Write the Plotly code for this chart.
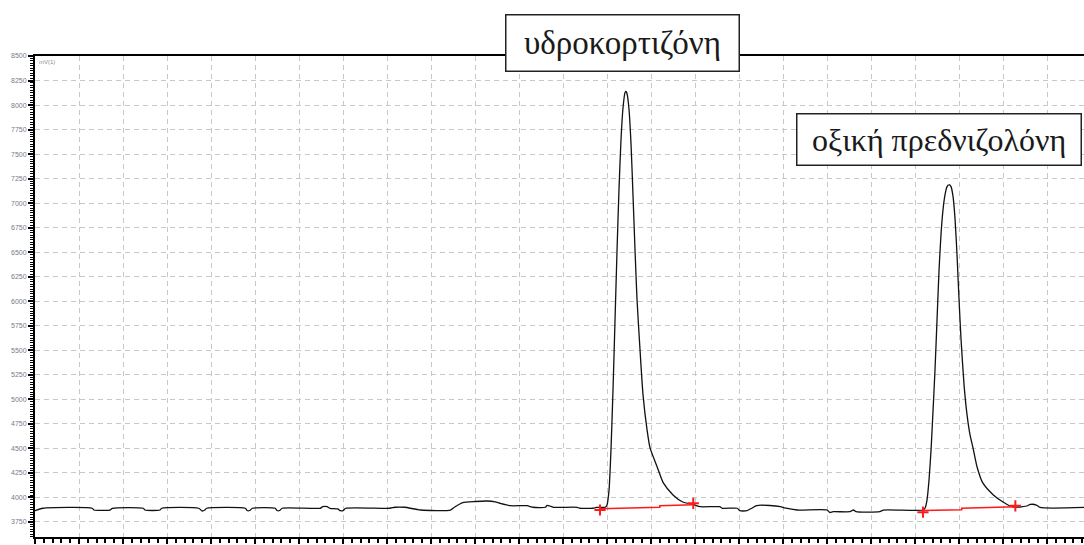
import plotly.graph_objects as go

# Chromatogram trace (time in min, detector signal)
time_min = [0.00, 0.09, 0.65, 0.67, 0.85, 0.88, 1.23, 1.25, 1.42, 1.44, 1.86, 1.90, 1.93, 1.95,
            2.39, 2.41, 2.44, 2.47, 2.73, 2.75, 2.78, 2.81, 3.24, 3.27, 3.32, 3.35, 3.44, 3.47,
            3.50, 3.53, 4.03, 4.09, 4.20, 4.38, 4.72, 4.77, 4.86, 5.00, 5.14, 5.23, 5.28, 5.40,
            5.59, 5.66, 5.80, 5.82, 5.85, 5.89, 6.16, 6.19, 6.34, 6.38, 6.48,
            6.500, 6.523, 6.545, 6.568, 6.591, 6.614, 6.636, 6.659, 6.682, 6.705, 6.716, 6.727,
            6.750, 6.773, 6.795, 6.818, 6.841, 6.875, 6.909, 6.955, 6.989,
            7.07, 7.14, 7.25, 7.36, 7.48, 7.56, 7.78,
            7.81, 7.98, 8.01, 8.09, 8.15, 8.20, 8.35, 8.47, 8.52, 8.66, 9.00, 9.03, 9.07, 9.26,
            9.30, 9.33, 9.60, 9.64, 10.09,
            10.114, 10.136, 10.159, 10.182, 10.205, 10.227, 10.250, 10.273, 10.295, 10.318,
            10.341, 10.364, 10.386, 10.409, 10.432, 10.455, 10.477, 10.500, 10.523, 10.557,
            10.591, 10.625, 10.659, 10.705,
            10.77, 10.89, 11.00, 11.11, 11.19, 11.27, 11.31, 11.38, 11.42, 11.92]
signal = [3865, 3890, 3890, 3872, 3872, 3890, 3890, 3872, 3872, 3890, 3890, 3862, 3872, 3890,
          3890, 3867, 3867, 3890, 3890, 3867, 3867, 3890, 3890, 3906, 3906, 3890, 3883, 3865,
          3865, 3890, 3890, 3900, 3900, 3872, 3872, 3903, 3947, 3959, 3964, 3954, 3941, 3916,
          3916, 3900, 3900, 3920, 3913, 3900, 3900, 3890, 3890, 3898, 3900,
          3923, 4077, 4485, 5097, 5811, 6525, 7138, 7648, 7975, 8128, 8138, 8118,
          7955, 7597, 7087, 6525, 6015, 5505, 5046, 4689, 4505,
          4311, 4148, 4026, 3954, 3929, 3906, 3906,
          3890, 3890, 3865, 3865, 3893, 3918, 3918, 3906, 3893, 3872, 3872, 3847, 3855, 3855,
          3872, 3855, 3855, 3872, 3872,
          3893, 3974, 4179, 4485, 4893, 5301, 5811, 6321, 6679, 6934,
          7087, 7168, 7189, 7168, 7066, 6832, 6474, 6015, 5607, 5148,
          4842, 4638, 4505, 4311,
          4148, 4026, 3954, 3903, 3903, 3913, 3929, 3923, 3898, 3898]

# Integration baselines (red)
base1_t = [6.42, 7.10, 7.10, 7.48]
base1_v = [3885, 3900, 3915, 3925]
base2_t = [10.09, 10.53, 10.53, 11.14]
base2_v = [3868, 3875, 3890, 3905]
mark_t = [6.42, 7.48, 10.09, 11.14]
mark_v = [3872, 3940, 3850, 3915]

x_ticks = [0.0, 0.5, 1.0, 1.5, 2.0, 2.5, 3.0, 3.5, 4.0, 4.5, 5.0, 5.5, 6.0, 6.5, 7.0, 7.5,
           8.0, 8.5, 9.0, 9.5, 10.0, 10.5, 11.0, 11.5]
x_labels = ["0.0", "0.5", "1.0", "1.5", "2.0", "2.5", "3.0", "3.5", "4.0", "4.5", "5.0", "5.5",
            "6.0", "6.5", "7.0", "7.5", "8.0", "8.5", "9.0", "9.5", "10.0", "10.5", "11.0", "11.5"]
y_ticks = [3750, 4000, 4250, 4500, 4750, 5000, 5250, 5500, 5750, 6000, 6250, 6500, 6750,
           7000, 7250, 7500, 7750, 8000, 8250, 8500]
y_labels = [str(v) for v in y_ticks]

peak_names = ["υδροκορτιζόνη", "οξική πρεδνιζολόνη"]

fig = go.Figure()
fig.add_trace(go.Scatter(x=time_min, y=signal, mode="lines",
                         line=dict(color="#111111", width=1.3, shape="spline", smoothing=0.6),
                         hoverinfo="skip"))
fig.add_trace(go.Scatter(x=base1_t, y=base1_v, mode="lines",
                         line=dict(color="#ff1a1a", width=1.5), hoverinfo="skip"))
fig.add_trace(go.Scatter(x=base2_t, y=base2_v, mode="lines",
                         line=dict(color="#ff1a1a", width=1.5), hoverinfo="skip"))
fig.add_trace(go.Scatter(x=mark_t, y=mark_v, mode="markers",
                         marker=dict(symbol="cross-thin", size=8,
                                     line=dict(color="#ff1a1a", width=2)),
                         hoverinfo="skip"))

fig.update_layout(
    width=1084, height=545,
    margin=dict(l=35, r=0, t=56, b=8, autoexpand=False),
    paper_bgcolor="white", plot_bgcolor="white",
    showlegend=False,
    xaxis=dict(range=[0, 11.92], tickvals=x_ticks, ticktext=x_labels, automargin=False,
               showline=True, linecolor="#000000", linewidth=2, mirror=True,
               ticks="outside", ticklen=5, tickwidth=1.5, tickcolor="#000000",
               minor=dict(dtick=0.1, ticks="outside", ticklen=4, tickcolor="#000000",
                          tickwidth=1.5, showgrid=False),
               showgrid=True, gridcolor="#c8c8c8", gridwidth=1, griddash="5px,4px",
               tickfont=dict(family="Liberation Sans", size=7, color="#8a8a9a"),
               zeroline=False),
    yaxis=dict(range=[3597, 8500], tickvals=y_ticks, ticktext=y_labels, automargin=False,
               showline=True, linecolor="#000000", linewidth=2, mirror=False,
               ticks="outside", ticklen=5, tickwidth=1.5, tickcolor="#000000",
               minor=dict(dtick=25, ticks="outside", ticklen=3, tickcolor="#000000",
                          tickwidth=1, showgrid=False),
               showgrid=True, gridcolor="#c8c8c8", gridwidth=1, griddash="5px,4px",
               tickfont=dict(family="Liberation Sans", size=7, color="#7a7a8a"),
               zeroline=False),
    annotations=[
        dict(text=peak_names[0], xref="paper", yref="paper", x=0.5605, y=1.026,
             showarrow=False, xanchor="center", yanchor="middle",
             font=dict(family="Liberation Serif", size=33, color="#1a1a1a"),
             bgcolor="white", bordercolor="#222222", borderwidth=1.5, borderpad=0,
             width=232, height=55),
        dict(text=peak_names[1], xref="paper", yref="paper", x=0.8618, y=0.8274,
             showarrow=False, xanchor="center", yanchor="middle",
             font=dict(family="Liberation Serif", size=32, color="#1a1a1a"),
             bgcolor="white", bordercolor="#222222", borderwidth=1.5, borderpad=0,
             width=283, height=50),
        dict(text="mV(1)", xref="paper", yref="paper", x=0.002, y=0.998,
             showarrow=False, xanchor="left", yanchor="top",
             font=dict(family="Liberation Sans", size=6, color="#8a8a9a")),
    ],
)

fig.write_html("out.html", config={"displayModeBar": False},
               post_script="document.body.style.margin='0';document.body.style.overflow='hidden';")
